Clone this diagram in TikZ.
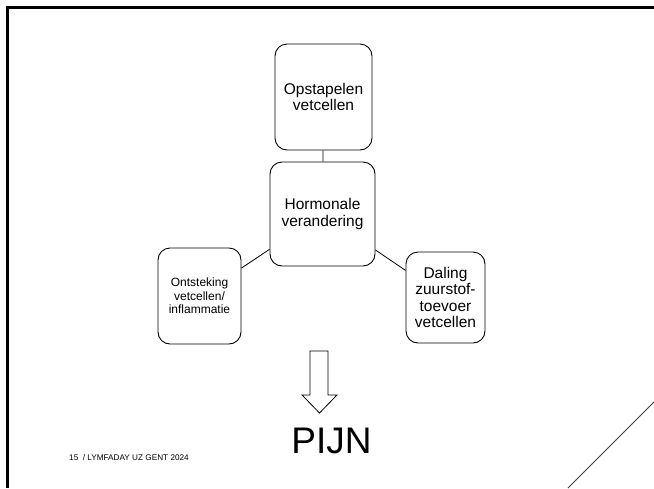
\documentclass[tikz,border=0pt]{standalone}
\usepackage{fontspec}
\setmainfont{Liberation Sans}
\begin{document}
\begin{tikzpicture}[x=1pt,y=-1pt,
  boxn/.style={draw=black, line width=0.9pt, rounded corners=12pt, align=center, inner sep=0pt,
    font=\fontsize{15.5}{16.5}\selectfont},
  link/.style={draw=black, line width=0.8pt}]
\useasboundingbox (0,0) rectangle (654,488);
\fill[white] (0,0) rectangle (654,488);
% slide frame
\draw[line width=3pt, black] (654,7) -- (7,7) -- (7,488);
\draw[line width=1pt, black!75] (568,488) -- (654,402);
% boxes
\node[boxn, minimum width=97pt, minimum height=106pt] (op) at (323.5,97) {Opstapelen\\vetcellen};
\node[boxn, minimum width=105pt, minimum height=104pt] (horm) at (322.5,214) {Hormonale\\verandering};
\node[boxn, minimum width=83pt, minimum height=96pt, font=\fontsize{12}{13.5}\selectfont] (ont) at (199.5,296) {Ontsteking\\vetcellen/\\inflammatie};
\node[boxn, minimum width=79pt, minimum height=91pt] (dal) at (445.5,297.5) {Daling\\zuurstof-\\toevoer\\vetcellen};
\draw[link] (op) -- (horm);
\draw[link] (horm) -- (ont);
\draw[link] (horm) -- (dal);
% block arrow
\draw[line width=0.8pt, black, fill=white] (310,351) -- (328,351) -- (328,395) -- (337,395) -- (319.5,413) -- (302,395) -- (310,395) -- cycle;
\node[font=\fontsize{37}{40}\selectfont, anchor=base, inner sep=0pt] (pijn) at (331.5,453) {PIJN};
\node[font=\fontsize{8.2}{9}\selectfont, anchor=base west, inner sep=0pt] (foot) at (69,460) {15 \ / LYMFADAY UZ GENT 2024};
\end{tikzpicture}
\end{document}
